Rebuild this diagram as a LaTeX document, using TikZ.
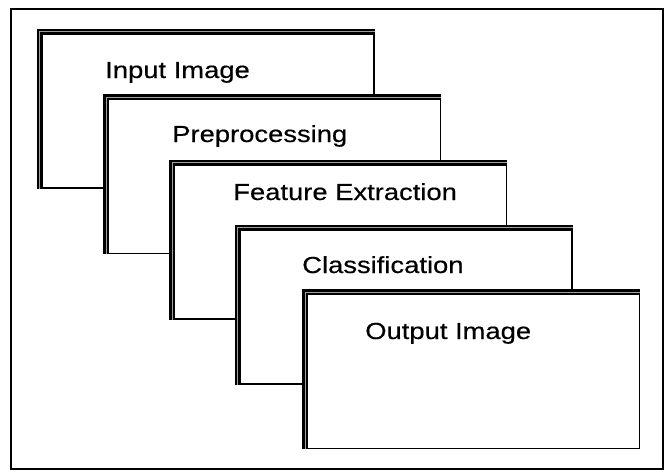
\documentclass[tikz,border=0pt]{standalone}
\usepackage{fontspec}
\setmainfont{Liberation Sans}
\newfontfamily\stagefont[FakeStretch=1.18, FakeBold=0.4]{Liberation Sans}
\usepackage{tikz}
\usetikzlibrary{positioning}
\tikzset{stage/.style={rectangle, minimum width=252pt, minimum height=118.5pt, inner sep=0pt, draw=black, line width=1.4pt, fill=white},
         stagetxt/.style={anchor=base west, inner sep=0pt, font=\stagefont\fontsize{17.4}{20}\selectfont},
         band/.style={line width=1.7pt, double=gray!75, double distance=0.9pt}}

\begin{document}
\begin{tikzpicture}[x=0.75pt, y=-0.75pt]
    \useasboundingbox (0,0) rectangle (666,471);
    \draw [line width=1.1pt] (11,9) rectangle (663,469);

    \node (input) [stage] at (206,109) {};
    \draw [band] ([xshift=2pt]input.south west) -- ([shift={(2pt,-2pt)}]input.north west) -- ([yshift=-2pt]input.north east);
    \node (inputtxt) [stagetxt] at (105,78) {Input Image};

    \node (prep) [stage] at (272.5,174.5) {};
    \draw [band] ([xshift=2pt]prep.south west) -- ([shift={(2pt,-2pt)}]prep.north west) -- ([yshift=-2pt]prep.north east);
    \node (preptxt) [stagetxt] at (172,142) {Preprocessing};

    \node (feat) [stage] at (338.5,240) {};
    \draw [band] ([xshift=2pt]feat.south west) -- ([shift={(2pt,-2pt)}]feat.north west) -- ([yshift=-2pt]feat.north east);
    \node (feattxt) [stagetxt] at (233,200) {Feature Extraction};

    \node (class) [stage] at (404,305) {};
    \draw [band] ([xshift=2pt]class.south west) -- ([shift={(2pt,-2pt)}]class.north west) -- ([yshift=-2pt]class.north east);
    \node (classtxt) [stagetxt] at (302,273) {Classification};

    \node (output) [stage] at (471.5,369.5) {};
    \draw [band] ([xshift=2pt]output.south west) -- ([shift={(2pt,-2pt)}]output.north west) -- ([yshift=-2pt]output.north east);
    \node (outputtxt) [stagetxt] at (365,339) {Output Image};
\end{tikzpicture}
\end{document}
